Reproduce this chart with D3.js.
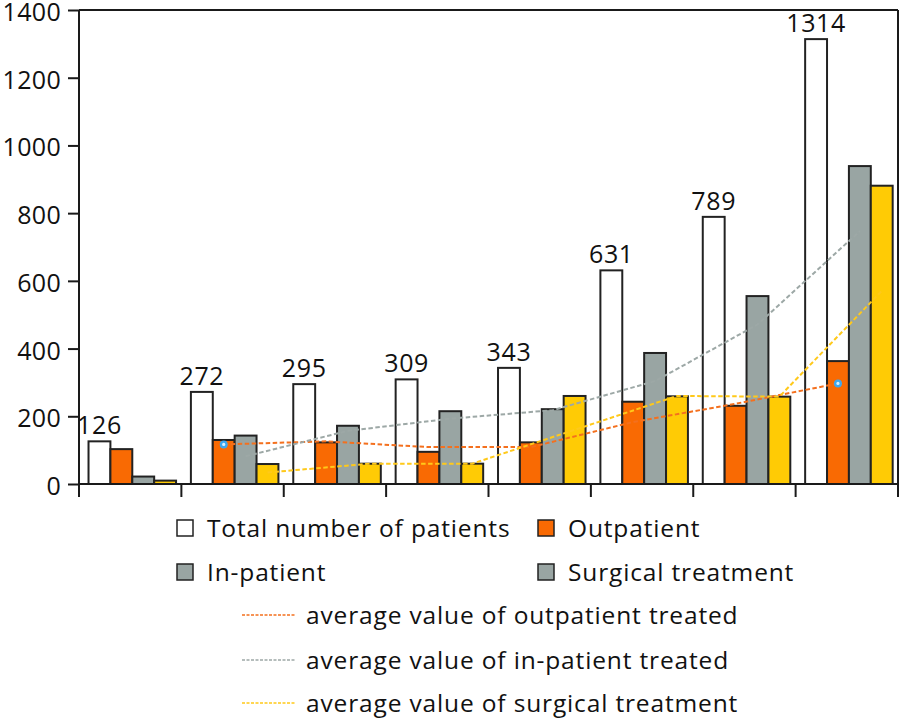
<!DOCTYPE html>
<html><head><meta charset="utf-8">
<script src="https://cdn.jsdelivr.net/npm/d3@7"></script>
<style>
html,body{margin:0;padding:0;background:#fff;}
svg{display:block;font-family:"Open Sans",sans-serif;}
</style></head>
<body><svg id="c" width="900" height="719"></svg>
<script>
const categories = ["1","2","3","4","5","6","7","8"];
const totalPatients = [126, 272, 295, 309, 343, 631, 789, 1314];
const outpatient = [103, 130, 123, 95, 123, 243, 231, 363];
const inpatient = [22, 143, 172, 215, 221, 387, 555, 939];
const surgical = [10, 59, 60, 60, 260, 259, 258, 881];
// averaged lines (start at category 2)
const avgCategories = ["2","3","4","5","6","7","8"];
const avgOutpatient = [117, 126, 109, 109, 183, 237, 297];
const avgInpatient = [82, 157, 193, 218, 304, 471, 747];
const avgSurgical = [34, 60, 60, 160, 260, 258, 570];
const yTicks = [0, 200, 400, 600, 800, 1000, 1200, 1400];

const seriesKeys = ["total","out","in","surg"];
const seriesData = {total: totalPatients, out: outpatient, in: inpatient, surg: surgical};
const fills = {total:"#ffffff", out:"#F96A03", in:"#99A5A3", surg:"#FFCB05"};
const lineColors = {out:"#F4701E", in:"#9DA8A6", surg:"#FFC91A"};

const svg = d3.select("#c");
const x0 = 79, x1 = 898, yTop = 10, yBase = 484;
const x = d3.scaleBand().domain(categories).range([x0, x1]).padding(0);
const bw = x.bandwidth();
const xs = d3.scaleBand().domain(seriesKeys).range([bw*0.093, bw*0.948]).padding(0);
const y = d3.scaleLinear().domain([0, 1400]).range([yBase, yTop]);

// bars
const g = svg.append("g");
seriesKeys.forEach(k => {
  g.selectAll(null).data(categories).join("rect")
    .attr("x", c => x(c) + xs(k))
    .attr("y", (c,i) => y(seriesData[k][i]))
    .attr("width", xs.bandwidth())
    .attr("height", (c,i) => y(0) - y(seriesData[k][i]))
    .attr("fill", fills[k])
    .attr("stroke", "#222")
    .attr("stroke-width", 2);
});

// value labels
svg.append("g").selectAll("text").data(categories).join("text")
  .attr("x", c => x(c) + xs("total") + xs.bandwidth()/2)
  .attr("y", (c,i) => y(totalPatients[i]) - 7)
  .attr("text-anchor", "middle")
  .attr("font-size", 25)
  .attr("letter-spacing", 0.6)
  .attr("fill", "#111")
  .text((c,i) => totalPatients[i]);

// average lines
const avgSets = [["out", avgOutpatient], ["in", avgInpatient], ["surg", avgSurgical]];
avgSets.forEach(([k, vals]) => {
  const line = d3.line()
    .x((v,i) => x(avgCategories[i]) + xs(k) + xs.bandwidth()/2)
    .y(v => y(v));
  svg.append("path").datum(vals)
    .attr("d", line)
    .attr("fill", "none")
    .attr("stroke", lineColors[k])
    .attr("stroke-width", 2)
    .attr("stroke-dasharray", "4.5,2.5");
});
// selection dots on outpatient average line
[0, avgOutpatient.length-1].forEach(i => {
  const cx = x(avgCategories[i]) + xs("out") + xs.bandwidth()/2;
  const cy = y(avgOutpatient[i]);
  svg.append("circle").attr("cx", cx).attr("cy", cy).attr("r", 4).attr("fill", "#3DA8F0");
  svg.append("circle").attr("cx", cx).attr("cy", cy).attr("r", 1.6).attr("fill", "#D8F0FF");
});

// axes
const yAxis = d3.axisLeft(y).tickValues(yTicks).tickFormat(d3.format("d"))
  .tickSize(11).tickPadding(7).tickSizeOuter(0);
const ya = svg.append("g").attr("transform", `translate(${x0},0)`).call(yAxis);
ya.select(".domain").remove();
ya.selectAll(".tick line").attr("stroke", "#1a1a1a").attr("stroke-width", 2);
ya.selectAll(".tick text").attr("font-size", 25).attr("letter-spacing", 0.3)
  .attr("dy", "0.42em").attr("fill", "#111").attr("font-family", "Open Sans");

const frame = svg.append("g").attr("stroke", "#1a1a1a").attr("stroke-width", 2).attr("fill", "none");
frame.append("line").attr("x1", x0).attr("x2", x0).attr("y1", yTop).attr("y2", yBase + 13);
frame.append("line").attr("x1", x0).attr("x2", x1).attr("y1", yTop).attr("y2", yTop);
frame.append("line").attr("x1", x1).attr("x2", x1).attr("y1", yTop).attr("y2", yBase + 13);
frame.append("line").attr("x1", x0).attr("x2", x1).attr("y1", yBase).attr("y2", yBase);
frame.selectAll(null).data(categories.slice(1)).join("line")
  .attr("x1", c => x(c)).attr("x2", c => x(c))
  .attr("y1", yBase).attr("y2", yBase + 13);

// legend
const leg = svg.append("g").attr("font-size", 24.5).attr("letter-spacing", 0.85).attr("fill", "#111");
const boxItems = [
  {label:"Total number of patients", fill:fills.total, x:177, y:528},
  {label:"Outpatient", fill:fills.out, x:538, y:528},
  {label:"In-patient", fill:fills.in, x:177, y:572},
  {label:"Surgical treatment", fill:fills.in, x:538, y:572}
];
boxItems.forEach(d => {
  leg.append("rect").attr("x", d.x).attr("y", d.y - 8).attr("width", 16).attr("height", 16)
    .attr("fill", d.fill).attr("stroke", "#222").attr("stroke-width", 1.5);
  leg.append("text").attr("x", d.x + 30).attr("y", d.y).attr("dy", "0.35em").text(d.label);
});
const lineItems = [
  {label:"average value of outpatient treated", color:lineColors.out, y:615},
  {label:"average value of in-patient treated", color:lineColors.in, y:660},
  {label:"average value of surgical treatment", color:lineColors.surg, y:703}
];
lineItems.forEach(d => {
  leg.append("line").attr("x1", 242).attr("x2", 296).attr("y1", d.y).attr("y2", d.y)
    .attr("stroke", d.color).attr("stroke-width", 1.5).attr("stroke-dasharray", "3,1.5");
  leg.append("text").attr("x", 306).attr("y", d.y).attr("dy", "0.35em").text(d.label);
});
</script></body></html>
